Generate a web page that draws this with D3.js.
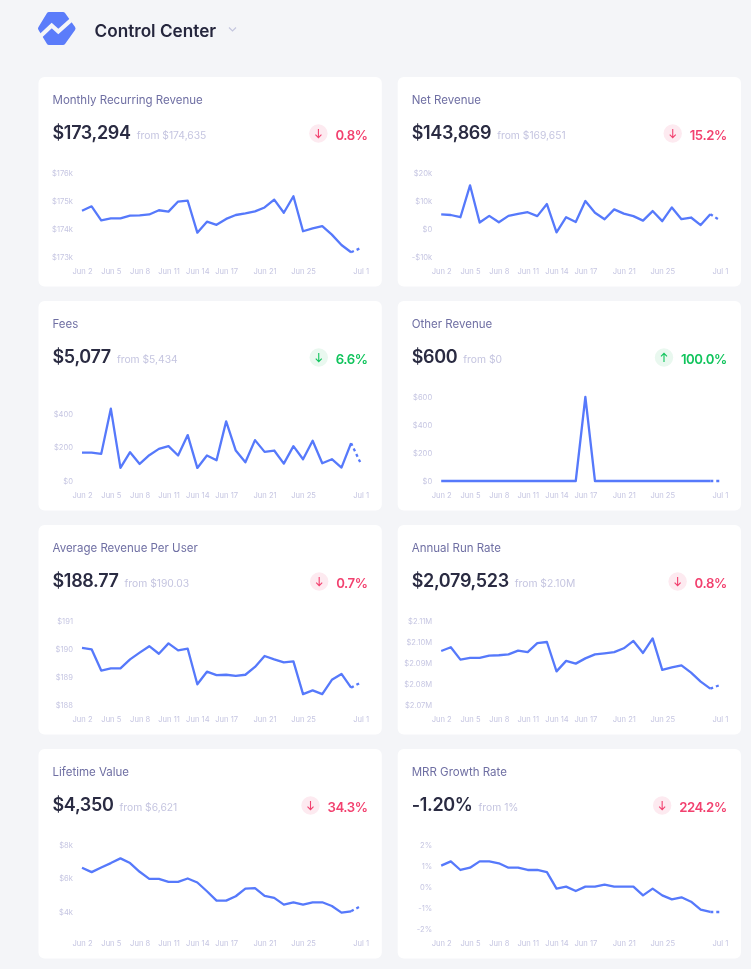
<!DOCTYPE html>
<html><head><meta charset="utf-8">
<script src="https://cdnjs.cloudflare.com/ajax/libs/d3/7.8.5/d3.min.js"></script>
<style>
html,body{margin:0;padding:0;background:#f4f5f8;overflow:hidden}
svg{display:block;font-family:Inter,"Noto Sans",sans-serif;filter:blur(0.3px)}
</style></head><body><svg id="c" width="751" height="969"></svg>
<script>
const days = ["Jun 2","Jun 3","Jun 4","Jun 5","Jun 6","Jun 7","Jun 8","Jun 9","Jun 10","Jun 11","Jun 12","Jun 13","Jun 14","Jun 15","Jun 16","Jun 17","Jun 18","Jun 19","Jun 20","Jun 21","Jun 22","Jun 23","Jun 24","Jun 25","Jun 26","Jun 27","Jun 28","Jun 29","Jun 30","Jul 1"];
const dayTicks = ["Jun 2","Jun 5","Jun 8","Jun 11","Jun 14","Jun 17","Jun 21","Jun 25","Jul 1"];

const titles = ["Monthly Recurring Revenue","Net Revenue","Fees","Other Revenue","Average Revenue Per User","Annual Run Rate","Lifetime Value","MRR Growth Rate"];
const totals = ["$173,294","$143,869","$5,077","$600","$188.77","$2,079,523","$4,350","-1.20%"];
const previous = ["from $174,635","from $169,651","from $5,434","from $0","from $190.03","from $2.10M","from $6,621","from 1%"];
const changes = ["0.8%","15.2%","6.6%","100.0%","0.7%","0.8%","34.3%","224.2%"];
const arrows = ["down","down","down","up","down","down","down","down"];
const tones = ["bad","bad","good","good","bad","bad","bad","bad"];

const mrr = [174.65,174.81,174.31,174.38,174.38,174.48,174.49,174.52,174.67,174.62,174.98,175.01,173.87,174.26,174.15,174.36,174.5,174.56,174.63,174.77,175.05,174.58,175.17,173.92,174.02,174.1,173.8,173.43,173.17,173.32];
const net = [5.2,5.0,4.2,15.6,2.3,4.7,2.4,4.7,5.4,6.0,4.6,8.9,-1.2,4.2,2.5,10.0,5.8,3.5,7.0,5.5,4.6,3.0,6.4,2.8,7.7,3.5,4.1,1.4,5.3,3.1];
const fees = [170,170,162,432,78,172,102,154,192,208,152,274,78,152,124,356,182,112,244,174,182,104,208,130,240,106,130,80,226,106];
const other = [0,0,0,0,0,0,0,0,0,0,0,0,0,0,0,600,0,0,0,0,0,0,0,0,0,0,0,0,0,0];
const arpu = [190.04,189.99,189.23,189.31,189.31,189.63,189.87,190.10,189.83,190.20,189.95,190.01,188.74,189.19,189.07,189.08,189.04,189.08,189.36,189.75,189.63,189.52,189.56,188.39,188.52,188.39,188.90,189.11,188.62,188.80];
const arr = [2.0957,2.0975,2.0916,2.0924,2.0924,2.0935,2.0937,2.0941,2.0959,2.0952,2.0995,2.1000,2.0860,2.0910,2.0897,2.0922,2.0941,2.0946,2.0952,2.0970,2.1005,2.0948,2.1017,2.0867,2.0879,2.0889,2.0854,2.0811,2.0778,2.0795];
const ltv = [6.64,6.38,6.66,6.92,7.20,6.92,6.40,5.98,5.98,5.80,5.80,6.00,5.76,5.24,4.68,4.68,4.94,5.40,5.42,4.96,4.84,4.44,4.58,4.44,4.58,4.58,4.36,3.96,4.04,4.36];
const growth = [1.02,1.22,0.81,0.92,1.22,1.22,1.13,0.92,0.92,0.81,0.81,0.71,-0.08,0.02,-0.19,0.02,0.02,0.11,0.02,0.02,0.02,-0.40,-0.08,-0.40,-0.59,-0.49,-0.70,-1.08,-1.19,-1.19];
const series = [mrr,net,fees,other,arpu,arr,ltv,growth];

const yTicks = [[173,174,175,176],[-10,0,10,20],[0,200,400],[0,200,400,600],[188,189,190,191],[2.07,2.08,2.09,2.10,2.11],[4,6,8],[-2,-1,0,1,2]];
const yLabels = [["$173k","$174k","$175k","$176k"],["-$10k","$0","$10k","$20k"],["$0","$200","$400"],["$0","$200","$400","$600"],["$188","$189","$190","$191"],["$2.07M","$2.08M","$2.09M","$2.10M","$2.11M"],["$4k","$6k","$8k"],["-2%","-1%","0%","1%","2%"]];

// layout
const plotTop = [96,96,113,96,96,96,96,96];
const plotBottom = [180,180,180,180,180,180,163,180];
const palette = {bad:{fg:"#f2416f",bg:"#fdeaf0"},good:{fg:"#10c45c",bg:"#e9f8ef"}};
const svg = d3.select("#c");

// header
const logo = svg.append("g");
logo.append("path").attr("d","M49 14.5H63L73 28.5L63 42.5H49L40.5 28.5Z").attr("fill","#5b7cfa").attr("stroke","#5b7cfa").attr("stroke-width",5).attr("stroke-linejoin","round");
logo.append("path").attr("d","M39 37.5L51.7 25.5L58.3 31.5L74 17.5").attr("fill","none").attr("stroke","#f4f5f8").attr("stroke-width",4.2);
svg.append("text").attr("x",94.5).attr("y",36.5).attr("font-size",17.2).attr("font-weight",600).attr("fill","#25263d").text("Control Center");
svg.append("path").attr("d","M229 27.5L232.5 31L236 27.5").attr("fill","none").attr("stroke","#c4c6de").attr("stroke-width",1.2);

titles.forEach((title,i)=>{
  const col=i%2,row=Math.floor(i/2);
  const g=svg.append("g").attr("transform",`translate(${38.5+col*359.2},${77+row*224})`);
  g.append("rect").attr("width",343.3).attr("height",209.5).attr("rx",6).attr("fill","#fff");
  g.append("text").attr("x",14).attr("y",26.5).attr("font-size",11.5).attr("fill","#6f6fa3").text(title);
  const big=g.append("text").attr("x",14).attr("y",61.5).attr("font-size",18).attr("letter-spacing",-0.34).attr("font-weight",600).attr("fill","#2a2b42").text(totals[i]);
  g.append("text").attr("x",14+big.node().getComputedTextLength()+6).attr("y",62).attr("font-size",10.3).attr("fill","#c5c5e0").text(previous[i]);
  const tone=palette[tones[i]];
  const pct=g.append("text").attr("x",329).attr("y",62.5).attr("text-anchor","end").attr("font-size",13.2).attr("letter-spacing",-0.45).attr("font-weight",600).attr("fill",tone.fg).text(changes[i]);
  const cx=329-pct.node().getComputedTextLength()-17;
  g.append("circle").attr("cx",cx).attr("cy",56.5).attr("r",9.2).attr("fill",tone.bg);
  const d=arrows[i]==="down"?1:-1;
  g.append("path").attr("d",`M${cx} ${56.5-4.5*d}V${56.5+4*d}M${cx-3} ${56.5+1.2*d}L${cx} ${56.5+4.2*d}L${cx+3} ${56.5+1.2*d}`).attr("fill","none").attr("stroke",tone.fg).attr("stroke-width",1.1);

  const x=d3.scalePoint().domain(days).range([43.5,322.2]);
  const y=d3.scaleLinear().domain(d3.extent(yTicks[i])).range([plotBottom[i],plotTop[i]]);
  const pts=series[i].map((v,j)=>[x(days[j]),y(v)]);
  const line=d3.line();
  const gx=g.append("g").attr("transform","translate(0,191.5)").call(d3.axisBottom(x).tickValues(dayTicks).tickSize(0).tickPadding(0));
  const gy=g.append("g").attr("transform","translate(43.5,0)").call(d3.axisLeft(y).tickValues(yTicks[i]).tickSize(0).tickPadding(9).tickFormat((v)=>yLabels[i][yTicks[i].indexOf(v)]));
  [gx,gy].forEach(a=>{a.select(".domain").remove();a.selectAll("text").attr("font-size",7.6).attr("font-family","Inter").attr("fill","#c6c6e2");});
  g.append("path").attr("d",line(pts.slice(0,29))).attr("fill","none").attr("stroke","#5679fb").attr("stroke-width",2.3).attr("stroke-linejoin","round");
  g.append("path").attr("d",line(pts.slice(28))).attr("fill","none").attr("stroke","#5679fb").attr("stroke-width",2.3).attr("stroke-dasharray","3 3");
});
</script></body></html>
